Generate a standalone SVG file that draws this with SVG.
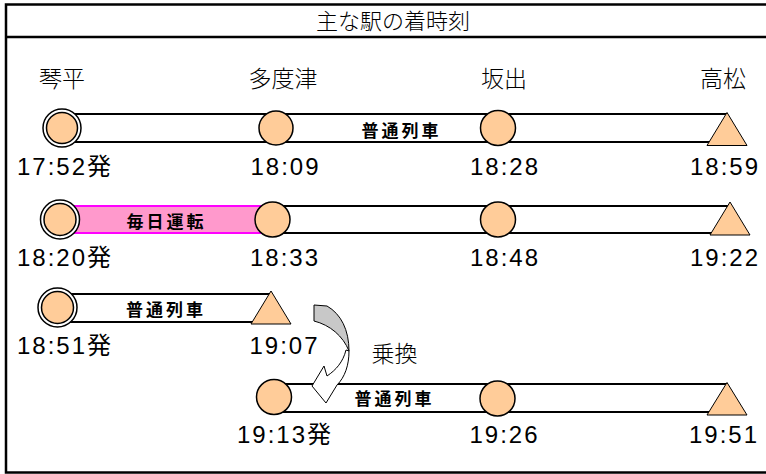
<svg xmlns="http://www.w3.org/2000/svg" width="766" height="474" viewBox="0 0 766 474">
<style>
.frame{fill:#fff;stroke:#000;stroke-width:2.5}
.trk{fill:#fff;stroke:#000;stroke-width:2}
.pink{fill:#FF99CC;stroke:#FF00FF;stroke-width:2}
.st{fill:#FFCC99;stroke:#000;stroke-width:1.5}
.ring{fill:#fff;stroke:#000;stroke-width:1.5}
.tri{fill:#FFCC99;stroke:#000;stroke-width:1}
.jp{font-family:"Noto Sans CJK JP","Noto Sans CJK SC",sans-serif;fill:#000}
.title{font-size:22px;text-anchor:middle;font-weight:300}
.name{font-size:23px;text-anchor:middle;font-weight:300}
.lbl{font-size:17px;font-weight:700;text-anchor:middle;letter-spacing:3px}
.tm{font-family:"Liberation Sans","Noto Sans CJK JP",sans-serif;font-size:24px;letter-spacing:2px;text-anchor:middle;fill:#000}
</style>
<rect class="frame" x="6" y="4.5" width="762" height="468"/>
<line x1="6" y1="37" x2="766" y2="37" stroke="#000" stroke-width="2.5"/>
<text class="jp title" x="393" y="28.5">主な駅の着時刻</text>
<g id="station-names">
<text class="jp name" x="62" y="86.5">琴平</text>
<text class="jp name" x="283" y="86.5">多度津</text>
<text class="jp name" x="504" y="86.5">坂出</text>
<text class="jp name" x="723" y="86.5">高松</text>
</g>
<g id="connectors">
<rect class="trk" x="62" y="114" width="665" height="28"/>
<rect class="trk" x="272" y="206" width="458" height="27"/>
<rect class="pink" x="60" y="206" width="212" height="27"/>
<rect class="trk" x="57" y="294" width="214" height="28"/>
<rect class="trk" x="274" y="384" width="453" height="28"/>
</g>
<g id="row1">
<circle class="ring" cx="62" cy="128" r="19"/>
<circle class="st" cx="62" cy="128" r="15.5"/>
<circle class="st" cx="276" cy="128" r="17"/>
<circle class="st" cx="498" cy="128" r="17.5"/>
<polygon class="tri" points="727,112.5 707,145.5 747,145.5"/>
<text class="jp lbl" x="401.5" y="137">普通列車</text>
<text class="tm" x="65" y="175">17:52発</text>
<text class="tm" x="285.5" y="175">18:09</text>
<text class="tm" x="505" y="175">18:28</text>
<text class="tm" x="725" y="175">18:59</text>
</g>
<g id="row2">
<circle class="ring" cx="60" cy="219.5" r="19.5"/>
<circle class="st" cx="60" cy="219.5" r="16"/>
<circle class="st" cx="272.5" cy="219.5" r="17.5"/>
<circle class="st" cx="498" cy="219.5" r="17.5"/>
<polygon class="tri" points="730,202 710,235 750,235"/>
<text class="jp lbl" x="166.5" y="228">毎日運転</text>
<text class="tm" x="65" y="266">18:20発</text>
<text class="tm" x="285" y="266">18:33</text>
<text class="tm" x="505" y="266">18:48</text>
<text class="tm" x="725" y="266">19:22</text>
</g>
<g id="row3">
<circle class="ring" cx="57.5" cy="307.5" r="19.5"/>
<circle class="st" cx="57.5" cy="307.5" r="16"/>
<polygon class="tri" points="271,291 251,324 291,324"/>
<text class="jp lbl" x="166" y="316">普通列車</text>
<text class="tm" x="65" y="354">18:51発</text>
<text class="tm" x="284.5" y="354">19:07</text>
</g>
<g id="transfer">
<path d="M314,305 L327,306 C341,314 349,330 349,351 C343,336 330,325 314,321 Z" fill="#C8C8C8" stroke="#000" stroke-width="1"/>
<path d="M349,351 C349,365 345,377 337,385 L326,403 L312,386 L324,366 L327,376 C336,370 343,362 346,350 Z" fill="#fff" stroke="#000" stroke-width="1"/>
<text class="jp name" x="394.5" y="361.5">乗換</text>
</g>
<g id="row4">
<circle class="st" cx="274" cy="397" r="17.5"/>
<circle class="st" cx="497.5" cy="398.5" r="17.5"/>
<polygon class="tri" points="727,382.5 707,415 747,415"/>
<text class="jp lbl" x="394.5" y="405">普通列車</text>
<text class="tm" x="285" y="443">19:13発</text>
<text class="tm" x="504.5" y="443">19:26</text>
<text class="tm" x="724" y="443">19:51</text>
</g>
</svg>
